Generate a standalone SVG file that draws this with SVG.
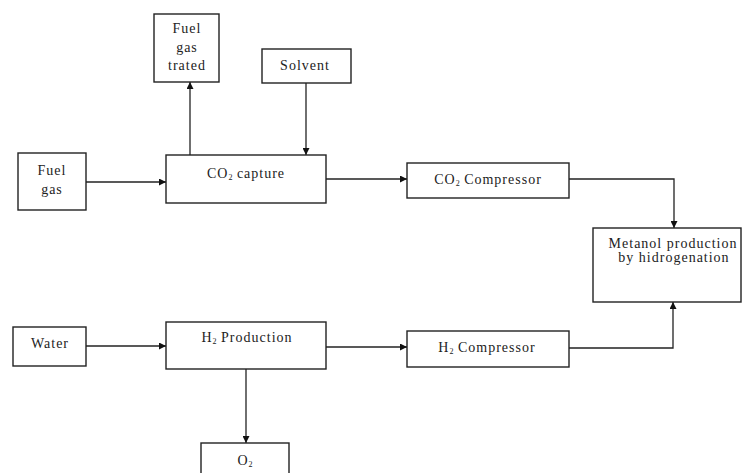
<svg xmlns="http://www.w3.org/2000/svg" width="742" height="473" viewBox="0 0 742 473">
<style>
.box{fill:#fff;stroke:#222;stroke-width:1.4}
.t{font-family:"Liberation Serif","Times New Roman",serif;font-size:14px;letter-spacing:1px;fill:#222;text-anchor:middle}
.c{fill:none;stroke:#222;stroke-width:1.3}
.s{font-size:8px;letter-spacing:0}
</style>
<defs>
<marker id="ah" viewBox="0 0 10 10" refX="10" refY="5" markerWidth="7" markerHeight="7" markerUnits="userSpaceOnUse" orient="auto">
<path d="M0,0 L10,5 L0,10 z" fill="#111"/>
</marker>
</defs>
<rect width="742" height="473" fill="#fff"/>
<g id="connectors">
<path class="c" d="M86,182 H166" marker-end="url(#ah)"/>
<path class="c" d="M190,155 V82" marker-end="url(#ah)"/>
<path class="c" d="M306,83 V155" marker-end="url(#ah)"/>
<path class="c" d="M326,179 H407" marker-end="url(#ah)"/>
<path class="c" d="M569,179 H674 V228" marker-end="url(#ah)"/>
<path class="c" d="M86,346 H166" marker-end="url(#ah)"/>
<path class="c" d="M326,347 H407" marker-end="url(#ah)"/>
<path class="c" d="M569,348 H673 V302" marker-end="url(#ah)"/>
<path class="c" d="M246,369 V443" marker-end="url(#ah)"/>
</g>
<g id="fuel-gas-trated">
<rect class="box" x="154" y="14" width="65" height="68"/>
<text class="t" x="187" y="33">Fuel</text>
<text class="t" x="187" y="52">gas</text>
<text class="t" x="187" y="70">trated</text>
</g>
<g id="solvent">
<rect class="box" x="262" y="49" width="89" height="34"/>
<text class="t" x="305" y="70">Solvent</text>
</g>
<g id="fuel-gas">
<rect class="box" x="18" y="153" width="68" height="57"/>
<text class="t" x="52" y="175">Fuel</text>
<text class="t" x="52" y="194">gas</text>
</g>
<g id="co2-capture">
<rect class="box" x="166" y="155" width="160" height="48"/>
<text class="t" x="246" y="178">CO<tspan class="s" dy="2">2</tspan><tspan dy="-2"> capture</tspan></text>
</g>
<g id="co2-compressor">
<rect class="box" x="407" y="163" width="162" height="35"/>
<text class="t" x="488" y="184">CO<tspan class="s" dy="2">2</tspan><tspan dy="-2"> Compressor</tspan></text>
</g>
<g id="metanol">
<rect class="box" x="593" y="228" width="148" height="74"/>
<text class="t" x="673" y="248">Metanol production</text>
<text class="t" x="674" y="262">by hidrogenation</text>
</g>
<g id="water">
<rect class="box" x="13" y="327" width="73" height="39"/>
<text class="t" x="50" y="348">Water</text>
</g>
<g id="h2-production">
<rect class="box" x="166" y="322" width="160" height="47"/>
<text class="t" x="247" y="342">H<tspan class="s" dy="2">2</tspan><tspan dy="-2"> Production</tspan></text>
</g>
<g id="h2-compressor">
<rect class="box" x="407" y="331" width="162" height="36"/>
<text class="t" x="487" y="352">H<tspan class="s" dy="2">2</tspan><tspan dy="-2"> Compressor</tspan></text>
</g>
<g id="o2">
<rect class="box" x="201" y="443" width="88" height="40"/>
<text class="t" x="245" y="465">O<tspan class="s" dy="2">2</tspan></text>
</g>
</svg>
